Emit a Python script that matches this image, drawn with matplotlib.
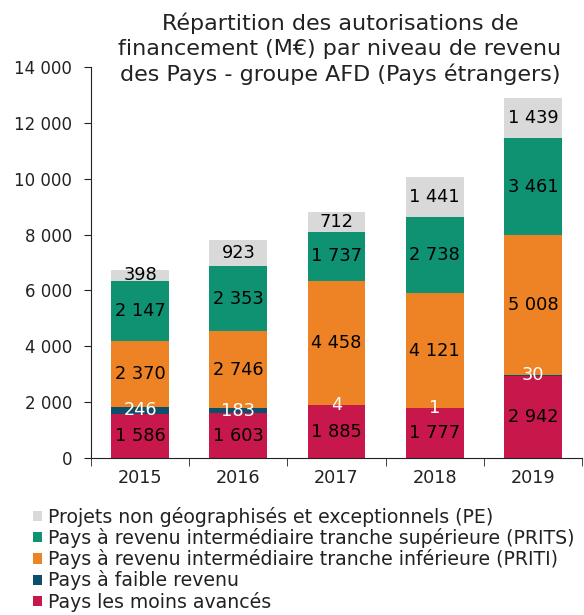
import numpy as np
import matplotlib
matplotlib.use('Agg')
import matplotlib.pyplot as plt
from matplotlib.ticker import FuncFormatter, FixedLocator

plt.rcParams['font.family'] = ['DejaVu Sans']

# data (M EUR)
years = ['2015', '2016', '2017', '2018', '2019']
pma = [1586, 1603, 1885, 1777, 2942]
faible = [246, 183, 4, 1, 30]
priti = [2370, 2746, 4458, 4121, 5008]
prits = [2147, 2353, 1737, 2738, 3461]
pe = [398, 923, 712, 1441, 1439]

series = [
    ('Pays les moins avancés', pma, '#C8174A', 'black'),
    ('Pays à faible revenu', faible, '#0B4F6C', 'white'),
    ('Pays à revenu intermédiaire tranche inférieure (PRITI)', priti, '#EE8325', 'black'),
    ('Pays à revenu intermédiaire tranche supérieure (PRITS)', prits, '#0E9272', 'black'),
    ('Projets non géographisés et exceptionnels (PE)', pe, '#D9D9D9', 'black'),
]

def fmt(v):
    return '{:,}'.format(int(v)).replace(',', ' ')

fig = plt.figure(figsize=(5.84, 6.15), dpi=100)
ax = fig.add_axes([91/584, 1-458/615, 491/584, 391/615])

x = np.arange(len(years))
bottom = np.zeros(len(years))
handles = []
for name, vals, col, tcol in series:
    vals = np.array(vals, dtype=float)
    b = ax.bar(x, vals, 0.59, bottom=bottom, color=col, label=name, zorder=2)
    handles.append(b)
    for xi, v, b0 in zip(x, vals, bottom):
        ax.text(xi, b0 + v/2, fmt(v), ha='center', va='center',
                fontsize=12.8, color=tcol, zorder=3)
    bottom += vals

ax.set_xlim(-0.5, 4.5)
ax.set_ylim(0, 14000)
ax.set_yticks(np.arange(0, 14001, 2000))
ax.yaxis.set_major_formatter(FuncFormatter(lambda v, p: fmt(v)))
ax.set_xticks(x)
ax.set_xticklabels(years)
ax.tick_params(axis='x', which='major', length=0, labelsize=12.7, pad=8, colors='#222222')
ax.xaxis.set_minor_locator(FixedLocator(np.arange(-0.5, 4.6, 1)))
ax.tick_params(axis='x', which='minor', length=6, direction='out', color='#222222')
ax.tick_params(axis='y', length=5, labelsize=12, colors='#222222', pad=8.5)
for s in ['top', 'right']:
    ax.spines[s].set_visible(False)
for s in ['left', 'bottom']:
    ax.spines[s].set_color('#222222')

fig.text(340/584, 1-13/615,
         'Répartition des autorisations de\nfinancement (M€) par niveau de revenu\ndes Pays - groupe AFD (Pays étrangers)',
         ha='center', va='top', fontsize=16, color='#222222', linespacing=1.27)

leg = fig.legend(handles[::-1], [s[0] for s in series][::-1],
                 loc='upper left', bbox_to_anchor=(33/584, 1-507/615),
                 frameon=False, fontsize=13.6, handlelength=0.45, handleheight=0.45,
                 handletextpad=0.35, labelspacing=0.06, borderaxespad=0, borderpad=0)
for t in leg.get_texts():
    t.set_color('#222222')

fig.savefig('out.png', dpi=100)
